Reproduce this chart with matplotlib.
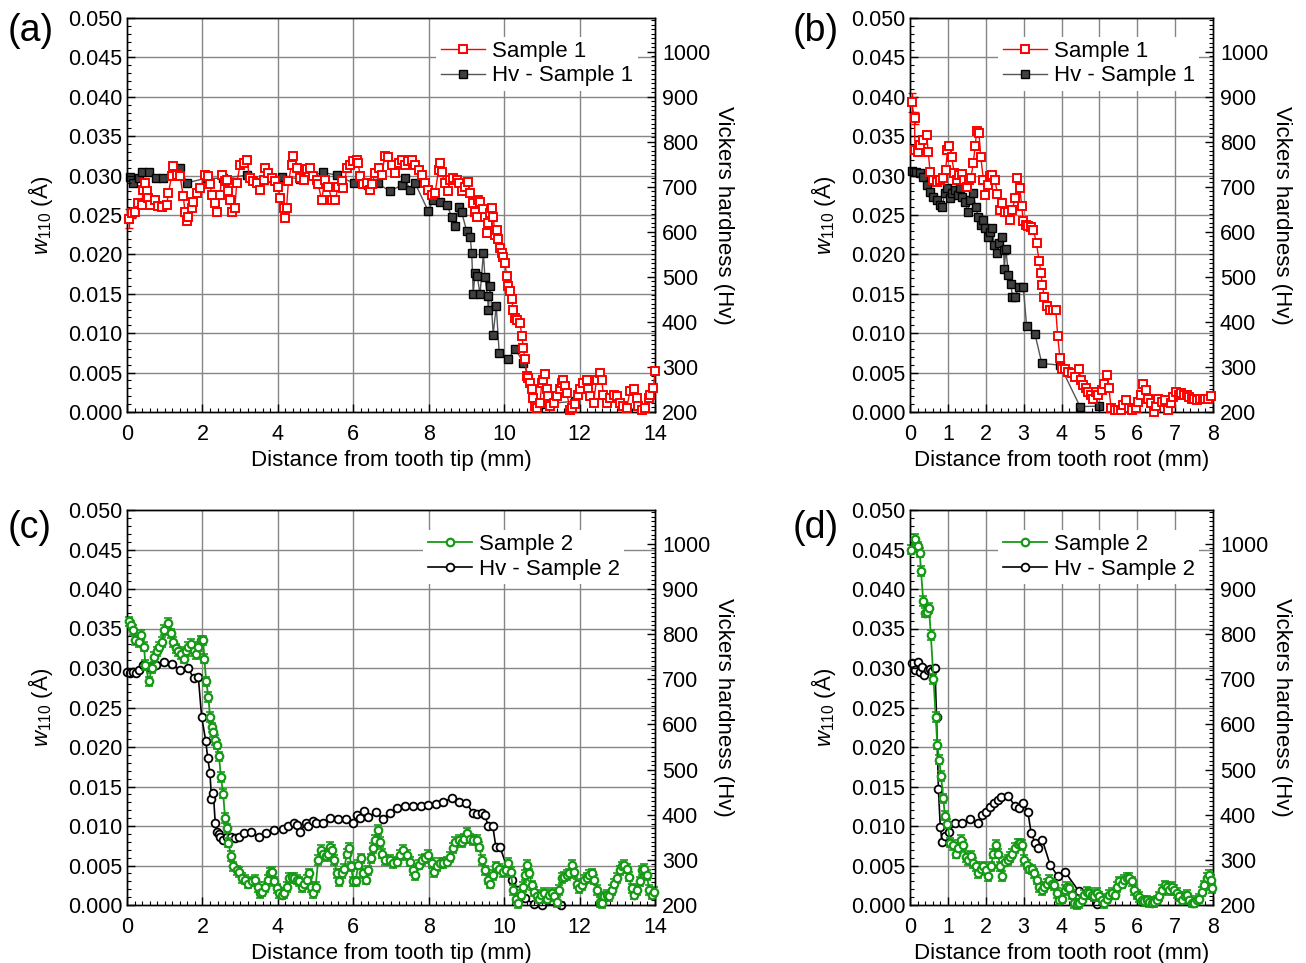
import matplotlib
matplotlib.use("Agg")
import matplotlib.pyplot as plt
from matplotlib.ticker import MultipleLocator, FormatStrFormatter
from matplotlib.transforms import blended_transform_factory
from matplotlib.lines import Line2D

plt.rcParams['font.family'] = ['Liberation Sans', 'DejaVu Sans']
plt.rcParams['mathtext.fontset'] = 'custom'
plt.rcParams['mathtext.rm'] = 'Liberation Sans'
plt.rcParams['mathtext.it'] = 'Liberation Sans:italic'

# ---------------- data ----------------
# (a) Sample 1, tooth tip: (distance mm, w110 Å)
A_W1 = [(0.04,0.0245),(0.12,0.0252),(0.21,0.0254),(0.30,0.0265),(0.39,0.0263),(0.43,0.0282),(0.48,0.0291),(0.52,0.0280),(0.57,0.0271),(0.61,0.0263),
        (0.74,0.0269),(0.83,0.0261),(0.92,0.0260),(1.05,0.0263),(1.10,0.0278),(1.18,0.0299),(1.23,0.0312),(1.32,0.0301),(1.41,0.0299),(1.49,0.0274),
        (1.54,0.0254),(1.58,0.0242),(1.63,0.0248),(1.72,0.0259),(1.76,0.0267),(1.85,0.0278),(1.94,0.0284),(2.07,0.0301),(2.16,0.0299),(2.20,0.0289),
        (2.25,0.0276),(2.33,0.0265),(2.38,0.0254),(2.47,0.0276),(2.51,0.0301),(2.60,0.0293),(2.64,0.0295),(2.69,0.0280),(2.73,0.0269),(2.78,0.0254),
        (2.86,0.0259),(2.91,0.0291),(3.00,0.0314),(3.09,0.0316),(3.17,0.0320),(3.26,0.0297),(3.35,0.0293),(3.44,0.0291),(3.53,0.0282),(3.62,0.0295),
        (3.66,0.0310),(3.75,0.0303),(3.84,0.0297),(3.93,0.0293),(4.01,0.0286),(4.06,0.0271),(4.15,0.0259),(4.19,0.0246),(4.23,0.0259),(4.28,0.0293),
        (4.37,0.0314),(4.41,0.0325),(4.50,0.0310),(4.59,0.0297),(4.68,0.0295),(4.76,0.0308),(4.85,0.0310),(4.94,0.0299),(5.03,0.0295),(5.07,0.0289),
        (5.16,0.0269),(5.25,0.0295),(5.34,0.0286),(5.43,0.0269),(5.52,0.0269),(5.60,0.0286),(5.69,0.0293),(5.74,0.0284),(5.83,0.0310),(5.91,0.0314),
        (6.00,0.0318),(6.09,0.0320),(6.13,0.0316),(6.18,0.0299),(6.27,0.0289),(6.36,0.0291),(6.44,0.0282),(6.49,0.0289),(6.58,0.0303),(6.67,0.0310),
        (6.75,0.0301),(6.84,0.0325),(6.93,0.0323),
        (7.02,0.0314),(7.11,0.0303),(7.20,0.0316),(7.28,0.0320),(7.37,0.0314),(7.46,0.0318),(7.55,0.0320),(7.64,0.0314),(7.73,0.0307),(7.81,0.0301),
        (7.90,0.0290),(7.99,0.0282),(8.08,0.0276),(8.17,0.0278),(8.26,0.0307),(8.30,0.0316),(8.34,0.0305),(8.43,0.0290),(8.52,0.0280),(8.57,0.0295),
        (8.65,0.0297),(8.74,0.0295),(8.79,0.0290),(8.87,0.0280),(8.96,0.0286),(9.05,0.0292),(9.10,0.0278),(9.18,0.0265),(9.23,0.0254),(9.27,0.0248),
        (9.32,0.0269),(9.36,0.0267),(9.45,0.0257),(9.49,0.0248),(9.54,0.0227),(9.58,0.0240),(9.63,0.0252),(9.67,0.0259),(9.71,0.0248),(9.76,0.0225),
        (9.80,0.0231),(9.85,0.0219),(9.89,0.0208),(9.94,0.0202),(9.98,0.0197),(10.02,0.0189),(10.07,0.0172),(10.11,0.0160),(10.16,0.0153),(10.20,0.0143),
        (10.24,0.0130),(10.29,0.0119),(10.33,0.0117),(10.42,0.0113),(10.47,0.0096),(10.51,0.0081),(10.55,0.0067),(10.60,0.0046),(10.64,0.0043),(10.69,0.0037),
        (10.73,0.0029),(10.77,0.0018),(10.82,0.0008),(10.86,0.0005),(10.95,0.0012),(11.00,0.0037),(11.04,0.0041),(11.08,0.0048),(11.13,0.0029),(11.17,0.0020),
        (11.22,0.0008),(11.31,0.0012),(11.39,0.0020),(11.48,0.0029),(11.53,0.0037),(11.57,0.0041),(11.62,0.0033),(11.66,0.0024),(11.75,0.0003),(11.79,0.0005),
        (11.88,0.0010),(11.97,0.0022),(12.01,0.0029),(12.10,0.0037),(12.19,0.0041),(12.23,0.0029),(12.28,0.0020),(12.37,0.0012),(12.45,0.0041),(12.54,0.0050),
        (12.59,0.0041),(12.63,0.0022),(12.72,0.0012),(12.81,0.0018),(12.90,0.0022),(12.98,0.0020),(13.07,0.0012),(13.16,0.0008),(13.25,0.0005),(13.34,0.0027),
        (13.43,0.0029),(13.52,0.0018),(13.56,0.0008),(13.65,0.0003),(13.74,0.0005),(13.83,0.0018),(13.87,0.0022),(13.96,0.0031),(14.00,0.0052)]
A_W1_ERR = [0.0012, 0.0006]

# (a) Hv - Sample 1: (distance mm, Hv)
A_HV1 = [(0.08,722),(0.17,708),(0.31,719),(0.40,733),(0.58,732),(0.77,719),(0.95,719),(1.41,741),(1.59,709),(2.09,719),
         (2.55,719),(3.18,726),(3.62,715),(4.10,722),(4.60,718),(5.19,732),(5.56,726),(6.01,708),(6.38,704),(6.65,708),
         (6.97,690),(7.28,704),(7.37,719),(7.50,693),(7.64,708),(7.99,646),(8.12,671),(8.30,667),(8.48,660),(8.61,634),
         (8.70,612),(8.79,656),(8.87,645),(9.01,601),(9.10,588),(9.14,554),(9.18,463),(9.23,509),(9.29,501),(9.36,461),
         (9.45,553),(9.49,499),(9.56,457),(9.58,427),(9.63,479),(9.71,372),(9.79,436),(9.87,330),(10.09,317),(10.30,340),
         (10.51,309),(10.95,217),(11.88,224)]

# (b) Sample 1, tooth root
B_W1 = [(0.04,0.0393),(0.12,0.0373),(0.13,0.0332),(0.20,0.0330),(0.26,0.0339),(0.35,0.0345),(0.44,0.0352),(0.48,0.0330),(0.53,0.0305),(0.62,0.0294),
        (0.70,0.0292),(0.79,0.0294),(0.88,0.0297),(0.94,0.0307),(0.99,0.0332),(1.04,0.0338),(1.10,0.0323),(1.17,0.0303),(1.23,0.0294),(1.29,0.0301),
        (1.36,0.0302),(1.43,0.0294),(1.50,0.0286),(1.56,0.0294),(1.61,0.0297),(1.67,0.0316),(1.72,0.0337),(1.76,0.0356),(1.82,0.0354),(1.87,0.0323),
        (1.94,0.0294),(1.98,0.0275),(2.05,0.0288),(2.11,0.0299),(2.17,0.0301),(2.24,0.0294),(2.31,0.0277),(2.38,0.0256),(2.44,0.0265),(2.51,0.0254),
        (2.58,0.0254),(2.64,0.0244),(2.70,0.0256),(2.77,0.0271),(2.83,0.0297),(2.90,0.0284),(2.95,0.0261),(2.99,0.0242),(3.05,0.0237),(3.12,0.0236),
        (3.20,0.0235),(3.26,0.0231),(3.34,0.0214),(3.41,0.0191),(3.46,0.0176),(3.49,0.0161),(3.55,0.0146),(3.61,0.0134),(3.70,0.0130),(3.78,0.0129),
        (3.85,0.0129),(3.90,0.0096),(3.96,0.0068),(4.00,0.0055),(4.09,0.0054),(4.18,0.0051),(4.27,0.0049),(4.36,0.0045),(4.45,0.0055),(4.52,0.0041),
        (4.58,0.0034),(4.64,0.0030),(4.71,0.0026),(4.78,0.0022),(4.84,0.0017),(4.90,0.0026),(4.97,0.0022),(5.06,0.0028),(5.12,0.0036),(5.19,0.0047),
        (5.25,0.0031),(5.31,0.0005),(5.40,0.0003),(5.48,0.0003),(5.57,0.0002),(5.63,0.0009),(5.70,0.0015),(5.78,0.0005),(5.87,0.0003),(5.96,0.0005),
        (6.03,0.0013),(6.09,0.0022),(6.16,0.0036),(6.22,0.0028),(6.29,0.0017),(6.36,0.0011),(6.43,0.0000),(6.49,0.0007),(6.56,0.0017),(6.65,0.0013),
        (6.73,0.0015),(6.82,0.0003),(6.89,0.0011),(6.95,0.0019),(7.02,0.0026),(7.09,0.0022),(7.16,0.0024),(7.23,0.0022),(7.31,0.0022),(7.37,0.0019),
        (7.44,0.0017),(7.51,0.0016),(7.58,0.0015),(7.66,0.0016),(7.73,0.0017),(7.79,0.0017),(7.88,0.0017),(7.95,0.0020)]
B_W1_ERR = [0.0012, 0.0008]

B_HV1 = [(0.04,736),(0.15,734),(0.26,730),(0.35,723),(0.44,704),(0.53,689),(0.62,678),(0.70,671),(0.79,660),(0.85,656),
         (0.92,686),(0.99,697),(1.06,675),(1.12,686),(1.19,693),(1.26,682),(1.32,697),(1.38,678),(1.45,667),(1.52,645),
         (1.58,671),(1.67,686),(1.73,656),(1.80,634),(1.87,615),(1.94,626),(1.98,608),(2.05,589),(2.11,600),(2.17,608),
         (2.23,571),(2.29,552),(2.35,575),(2.42,589),(2.47,560),(2.49,517),(2.53,563),(2.60,504),(2.67,484),(2.70,456),
         (2.77,455),(2.88,477),(2.99,478),(3.08,390),(3.30,373),(3.48,308),(3.96,304),(4.49,212),(4.99,213)]

# (c) Sample 2, tooth tip
C_W2 = [(0.04,0.0359),(0.10,0.0354),(0.17,0.0348),(0.22,0.0335),(0.31,0.0333),(0.37,0.0342),(0.45,0.0327),(0.49,0.0304),(0.58,0.0283),(0.66,0.0300),
        (0.72,0.0314),(0.79,0.0321),(0.86,0.0327),(0.92,0.0333),(0.99,0.0348),(1.09,0.0357),(1.16,0.0344),(1.22,0.0333),(1.29,0.0325),(1.36,0.0321),
        (1.43,0.0318),(1.50,0.0312),(1.56,0.0321),(1.63,0.0327),(1.71,0.0331),(1.77,0.0321),(1.83,0.0318),(1.89,0.0327),(1.95,0.0335),(2.02,0.0335),
        (2.05,0.0312),(2.10,0.0283),(2.16,0.0263),(2.20,0.0238),(2.26,0.0225),(2.29,0.0219),(2.33,0.0209),(2.38,0.0203),(2.44,0.0188),(2.49,0.0162),
        (2.55,0.0141),(2.60,0.0110),(2.64,0.0097),(2.69,0.0079),(2.76,0.0062),(2.82,0.0049),(2.91,0.0044),(2.97,0.0042),(3.04,0.0034),(3.13,0.0032),
        (3.22,0.0027),(3.31,0.0030),(3.39,0.0032),(3.47,0.0023),(3.53,0.0015),(3.59,0.0017),(3.66,0.0023),(3.73,0.0032),(3.79,0.0041),(3.85,0.0042),
        (3.91,0.0030),(3.97,0.0021),(4.03,0.0015),(4.10,0.0013),(4.17,0.0015),(4.23,0.0023),(4.30,0.0034),(4.37,0.0035),(4.44,0.0034),(4.50,0.0032),
        (4.56,0.0030),(4.63,0.0023),(4.70,0.0027),(4.76,0.0032),(4.83,0.0040),(4.88,0.0023),(4.94,0.0015),(5.00,0.0023),(5.07,0.0057),(5.14,0.0070),
        (5.21,0.0065),(5.27,0.0062),(5.34,0.0065),(5.38,0.0074),(5.44,0.0070),(5.50,0.0057),(5.56,0.0040),(5.62,0.0030),(5.69,0.0040),(5.76,0.0046),
        (5.83,0.0065),(5.89,0.0072),(5.94,0.0049),(6.00,0.0030),(6.06,0.0030),(6.13,0.0051),(6.21,0.0059),(6.27,0.0040),(6.33,0.0032),(6.40,0.0044),
        (6.47,0.0059),(6.53,0.0072),(6.58,0.0082),(6.65,0.0095),(6.71,0.0080),(6.77,0.0065),(6.84,0.0057),(6.97,0.0057),(7.06,0.0053),(7.15,0.0055),
        (7.24,0.0063),(7.33,0.0070),(7.42,0.0063),(7.50,0.0055),(7.59,0.0044),(7.64,0.0038),(7.73,0.0051),(7.81,0.0057),(7.90,0.0059),(7.99,0.0063),
        (8.08,0.0053),(8.15,0.0042),(8.23,0.0049),(8.30,0.0053),(8.39,0.0053),(8.48,0.0055),(8.57,0.0061),(8.64,0.0072),(8.70,0.0080),(8.79,0.0082),
        (8.87,0.0080),(8.94,0.0084),(9.01,0.0091),(9.10,0.0084),(9.18,0.0082),(9.27,0.0082),(9.34,0.0074),(9.41,0.0057),(9.49,0.0044),(9.56,0.0032),
        (9.63,0.0027),(9.70,0.0038),(9.78,0.0049),(9.87,0.0046),(9.96,0.0042),(10.05,0.0044),(10.11,0.0053),(10.17,0.0042),(10.24,0.0019),(10.32,0.0008),
        (10.38,0.0002),(10.44,0.0013),(10.51,0.0023),(10.55,0.0038),(10.60,0.0051),(10.67,0.0040),(10.73,0.0025),(10.79,0.0017),(10.86,0.0011),(10.93,0.0008),
        (10.99,0.0013),(11.06,0.0015),(11.13,0.0008),(11.20,0.0013),(11.26,0.0015),(11.32,0.0011),(11.39,0.0004),(11.46,0.0019),(11.53,0.0034),(11.59,0.0036),
        (11.66,0.0038),(11.73,0.0040),(11.79,0.0051),(11.85,0.0042),(11.92,0.0027),(11.99,0.0021),(12.06,0.0025),(12.12,0.0032),(12.19,0.0034),(12.26,0.0038),
        (12.32,0.0040),(12.38,0.0032),(12.45,0.0019),(12.53,0.0004),(12.59,0.0002),(12.65,0.0011),(12.72,0.0013),(12.79,0.0011),(12.85,0.0019),(12.91,0.0027),
        (12.98,0.0034),(13.06,0.0044),(13.12,0.0049),(13.18,0.0051),(13.25,0.0046),(13.32,0.0036),(13.38,0.0021),(13.44,0.0013),(13.52,0.0019),(13.59,0.0030),
        (13.65,0.0044),(13.71,0.0046),(13.78,0.0038),(13.85,0.0019),(13.91,0.0013),(13.97,0.0017)]

C_HV2 = [(0.01,717),(0.08,713),(0.17,717),(0.25,713),(0.31,720),(0.43,732),(0.58,728),(0.77,732),(0.99,739),(1.20,734),
         (1.41,720),(1.61,726),(1.77,702),(1.89,706),(1.98,616),(2.09,563),(2.14,525),(2.20,493),(2.24,434),(2.29,447),
         (2.34,381),(2.38,362),(2.44,357),(2.47,350),(2.55,345),(2.64,351),(2.75,350),(2.86,348),(2.96,351),(3.09,359),
         (3.28,362),(3.50,351),(3.69,360),(3.90,366),(4.14,368),(4.28,375),(4.42,381),(4.51,377),(4.60,362),(4.74,382),
         (4.81,374),(4.92,387),(5.01,382),(5.19,381),(5.39,392),(5.60,390),(5.81,390),(5.99,382),(6.09,399),(6.18,392),
         (6.29,409),(6.40,396),(6.61,405),(6.79,390),(6.97,403),(7.15,414),(7.37,419),(7.59,419),(7.79,419),(7.99,422),
         (8.19,424),(8.39,429),(8.61,436),(8.79,429),(8.99,427),(9.18,403),(9.29,402),(9.40,403),(9.49,399),(9.58,374),
         (9.70,374),(9.78,329),(9.89,328),(10.20,255),(10.38,233),(10.55,215),(10.78,202),(11.00,200),(11.50,200)]

# (d) Sample 2, tooth root
D_W2 = [(0.03,0.0450),(0.12,0.0463),(0.20,0.0454),(0.26,0.0446),(0.29,0.0423),(0.35,0.0385),(0.40,0.0370),(0.44,0.0371),(0.50,0.0376),(0.55,0.0342),
        (0.62,0.0286),(0.68,0.0238),(0.72,0.0203),(0.77,0.0184),(0.82,0.0163),(0.88,0.0135),(0.92,0.0113),(0.99,0.0103),(1.06,0.0079),(1.14,0.0076),
        (1.21,0.0065),(1.28,0.0072),(1.35,0.0082),(1.41,0.0076),(1.47,0.0061),(1.54,0.0057),(1.61,0.0062),(1.67,0.0053),(1.73,0.0049),(1.80,0.0040),
        (1.87,0.0046),(1.94,0.0049),(2.00,0.0044),(2.07,0.0037),(2.14,0.0049),(2.20,0.0065),(2.26,0.0076),(2.32,0.0065),(2.38,0.0049),(2.44,0.0037),
        (2.51,0.0055),(2.58,0.0057),(2.64,0.0061),(2.70,0.0065),(2.77,0.0072),(2.84,0.0077),(2.90,0.0078),(2.97,0.0076),(3.02,0.0057),(3.08,0.0051),
        (3.14,0.0046),(3.21,0.0045),(3.28,0.0040),(3.35,0.0032),(3.41,0.0023),(3.48,0.0019),(3.55,0.0023),(3.61,0.0027),(3.67,0.0032),(3.74,0.0027),
        (3.81,0.0025),(3.87,0.0015),(3.93,0.0006),(4.00,0.0008),(4.08,0.0019),(4.14,0.0023),(4.20,0.0021),(4.27,0.0013),(4.34,0.0002),(4.40,0.0001),
        (4.46,0.0002),(4.53,0.0006),(4.60,0.0013),(4.67,0.0017),(4.73,0.0015),(4.80,0.0013),(4.87,0.0011),(4.93,0.0015),(4.99,0.0011),(5.06,0.0006),
        (5.13,0.0002),(5.19,0.0008),(5.26,0.0013),(5.33,0.0015),(5.40,0.0013),(5.46,0.0023),(5.52,0.0030),(5.59,0.0027),(5.66,0.0032),(5.72,0.0034),
        (5.78,0.0034),(5.85,0.0030),(5.92,0.0019),(5.99,0.0013),(6.05,0.0010),(6.12,0.0006),(6.19,0.0005),(6.25,0.0006),(6.31,0.0004),(6.38,0.0003),
        (6.45,0.0004),(6.51,0.0006),(6.58,0.0011),(6.65,0.0019),(6.72,0.0025),(6.78,0.0023),(6.84,0.0019),(6.91,0.0023),(6.98,0.0019),(7.04,0.0015),
        (7.10,0.0011),(7.17,0.0006),(7.25,0.0011),(7.31,0.0013),(7.37,0.0006),(7.44,0.0003),(7.51,0.0003),(7.57,0.0006),(7.63,0.0008),(7.70,0.0017),
        (7.77,0.0025),(7.83,0.0034),(7.90,0.0038),(7.95,0.0032),(7.98,0.0021)]

D_HV2 = [(0.04,735),(0.12,721),(0.20,739),(0.26,717),(0.31,728),(0.38,710),(0.47,721),(0.53,722),(0.59,719),(0.66,724),
         (0.70,616),(0.75,458),(0.80,372),(0.85,340),(0.92,352),(1.02,362),(1.19,381),(1.38,381),(1.58,390),(1.79,382),
         (1.91,399),(2.00,407),(2.11,416),(2.23,425),(2.32,433),(2.40,440),(2.60,441),(2.77,419),(2.88,414),(2.99,425),
         (3.11,407),(3.20,359),(3.30,338),(3.39,326),(3.49,345),(3.70,289),(3.90,264),(4.09,274),(4.46,230),(4.93,202)]

W2_ERR = 0.0006  # typical w110 error bar for Sample 2

W_TICK_STEP = 0.005
HV_TICK_STEP = 100
W_LIM = (0.0, 0.05)
HV_LIM = (200, 1075)

# ---------------- figure ----------------
RED = '#ff0000'
GREEN = '#169a16'
FIG_W, FIG_H = 1306, 963
fig = plt.figure(figsize=(FIG_W / 100, FIG_H / 100), dpi=100)


def rect(l, r, t, b):
    return [l / FIG_W, 1 - b / FIG_H, (r - l) / FIG_W, (b - t) / FIG_H]


def draw(box, xmax, xmajor, wdata, hvdata, kind, wlab, hvlab, xlabel, tag, tagxy, legxy, werr):
    ax = fig.add_axes(rect(*box))
    tw = ax.twinx()
    ax.set_zorder(tw.get_zorder() + 1)
    ax.patch.set_visible(False)
    tw.set_facecolor('white')
    tw.patch.set_visible(True)

    xs = [p[0] for p in wdata]
    ws = [p[1] for p in wdata]
    hx = [p[0] for p in hvdata]
    hv = [p[1] for p in hvdata]

    if kind == 1:
        ax.errorbar(xs[:len(werr)], ws[:len(werr)], yerr=werr, fmt='none', ecolor=RED,
                    elinewidth=1, capsize=3, clip_on=False, zorder=2)
        h1, = ax.plot(xs, ws, '-s', color=RED, lw=1.0, ms=6.4, mfc='white', mec=RED,
                      mew=1.4, clip_on=False, zorder=3, label=wlab)
        h2, = tw.plot(hx, hv, '-s', color='#555555', lw=1.0, ms=6.4, mfc='#404040',
                      mec='black', mew=1.0, clip_on=False, zorder=3, label=hvlab)
    else:
        ax.errorbar(xs, ws, yerr=werr, fmt='none', ecolor=GREEN, elinewidth=1.0,
                    capsize=3, capthick=1.2, clip_on=False, zorder=2)
        h1, = ax.plot(xs, ws, '-o', color=GREEN, lw=1.3, ms=5.4, mfc='white', mec=GREEN,
                      mew=1.6, clip_on=False, zorder=3, label=wlab)
        h2, = tw.plot(hx, hv, '-o', color='black', lw=1.2, ms=5.6, mfc='white',
                      mec='black', mew=1.3, clip_on=False, zorder=3, label=hvlab)

    ax.set_xlim(0, xmax)
    ax.set_ylim(*W_LIM)
    tw.set_ylim(*HV_LIM)

    ax.xaxis.set_major_locator(MultipleLocator(xmajor))
    ax.xaxis.set_minor_locator(MultipleLocator(0.2))
    ax.yaxis.set_major_locator(MultipleLocator(W_TICK_STEP))
    ax.yaxis.set_minor_locator(MultipleLocator(0.001))
    ax.yaxis.set_major_formatter(FormatStrFormatter('%.3f'))
    tw.yaxis.set_major_locator(MultipleLocator(HV_TICK_STEP))
    tw.yaxis.set_minor_locator(MultipleLocator(10))

    ax.tick_params(which='both', direction='in', top=False, right=False, labelsize=15.5, colors='black')
    ax.tick_params(which='major', length=6, width=1.0)
    ax.tick_params(which='minor', length=3, width=0.8)
    ax.tick_params(axis='x', pad=8.5)
    tw.tick_params(which='both', direction='in', labelsize=15.5, pad=5)
    tw.tick_params(which='major', length=6, width=1.0)
    tw.tick_params(which='minor', length=3, width=0.8)

    # grid (drawn in the lower twin layer so markers sit above it)
    gcol = '#858585'
    k = xmajor
    while k < xmax - 1e-9:
        tw.axvline(k, color=gcol, lw=1.0, zorder=0.5)
        k += xmajor
    trans = blended_transform_factory(tw.transAxes, ax.transData)
    yv = W_TICK_STEP
    while yv < W_LIM[1] - 1e-9:
        tw.add_artist(Line2D([0, 1], [yv, yv], transform=trans, color=gcol, lw=1.0, zorder=0.5))
        yv += W_TICK_STEP

    for a in (ax, tw):
        for s in a.spines.values():
            s.set_linewidth(1.0)
            s.set_color('black')

    ax.set_xlabel(xlabel, fontsize=16, labelpad=4)
    ax.set_ylabel(r'$w_{110}$ (Å)', fontsize=16, labelpad=9)
    tw.set_ylabel('Vickers hardness (Hv)', fontsize=16, rotation=270, va='bottom', labelpad=2)

    leg = ax.legend(handles=[h1, h2], loc='upper right', bbox_to_anchor=legxy,
                    bbox_transform=ax.transAxes, borderaxespad=0, fontsize=16,
                    handlelength=2.0, handletextpad=0.3, labelspacing=0.15,
                    borderpad=0.2, frameon=True, fancybox=False, framealpha=1,
                    edgecolor='none', facecolor='white')
    leg.set_zorder(10)

    fig.text(tagxy[0] / FIG_W, 1 - tagxy[1] / FIG_H, tag, fontsize=27, ha='left', va='center')


draw((127, 655, 18, 412), 14, 2, A_W1, A_HV1, 1, 'Sample 1', 'Hv - Sample 1',
     'Distance from tooth tip (mm)', '(a)', (8, 31), (0.967, 0.953), A_W1_ERR)
draw((910, 1213, 18, 412), 8, 1, B_W1, B_HV1, 1, 'Sample 1', 'Hv - Sample 1',
     'Distance from tooth root (mm)', '(b)', (793, 31), (0.955, 0.953), B_W1_ERR)
draw((127, 655, 510, 905), 14, 2, C_W2, C_HV2, 2, 'Sample 2', 'Hv - Sample 2',
     'Distance from tooth tip (mm)', '(c)', (8, 528), (0.942, 0.950), W2_ERR)
draw((910, 1213, 510, 905), 8, 1, D_W2, D_HV2, 2, 'Sample 2', 'Hv - Sample 2',
     'Distance from tooth root (mm)', '(d)', (793, 528), (0.955, 0.950), W2_ERR)

fig.savefig('out.png', dpi=100)
